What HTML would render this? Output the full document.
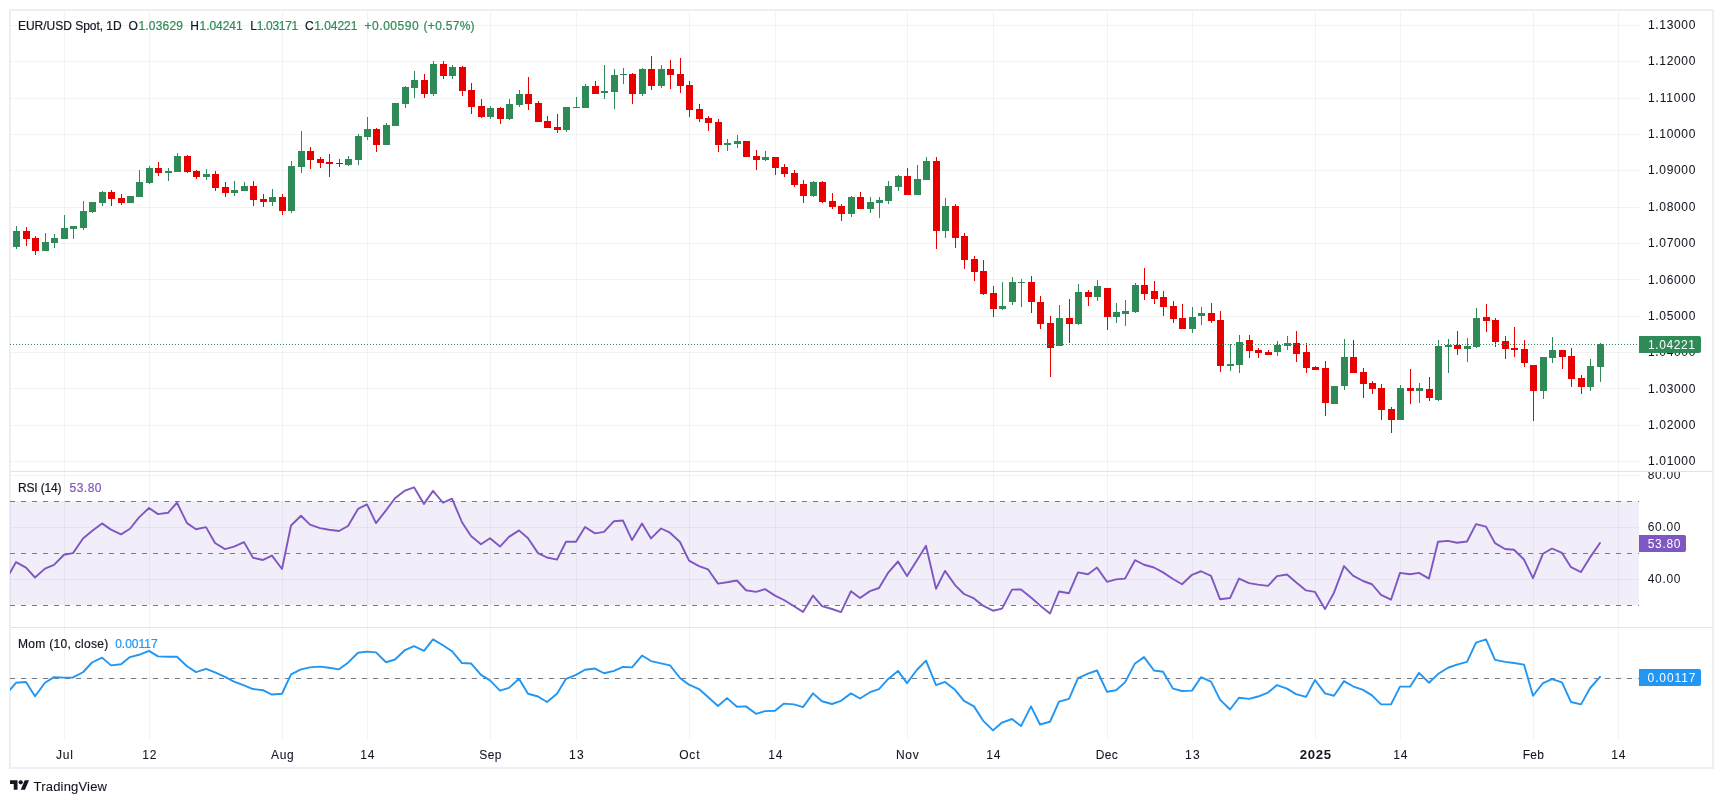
<!DOCTYPE html>
<html><head><meta charset="utf-8"><title>EUR/USD Spot</title>
<style>html,body{margin:0;padding:0;background:#fff;overflow:hidden}svg text{white-space:pre}</style>
</head><body>
<svg width="1723" height="803" viewBox="0 0 1723 803" style="display:block;will-change:transform">
<defs>
<clipPath id="cm"><rect x="10" y="11" width="1629" height="460"/></clipPath>
<clipPath id="cr"><rect x="10" y="472" width="1629" height="155"/></clipPath>
<clipPath id="co"><rect x="10" y="628" width="1629" height="112"/></clipPath>
<clipPath id="cra"><rect x="1639" y="472" width="80" height="155"/></clipPath>
</defs>
<rect x="0" y="0" width="1723" height="803" fill="#ffffff"/>
<rect x="10" y="10" width="1703" height="758" fill="none" stroke="#eeeff3" stroke-width="2" shape-rendering="crispEdges"/>
<rect x="10" y="501" width="1629" height="104" fill="rgba(126,87,194,0.1)" shape-rendering="crispEdges"/>
<g fill="rgba(42,46,57,0.06)" shape-rendering="crispEdges">
<rect x="64" y="11" width="1" height="729"/>
<rect x="149" y="11" width="1" height="729"/>
<rect x="282" y="11" width="1" height="729"/>
<rect x="367" y="11" width="1" height="729"/>
<rect x="490" y="11" width="1" height="729"/>
<rect x="576" y="11" width="1" height="729"/>
<rect x="689" y="11" width="1" height="729"/>
<rect x="775" y="11" width="1" height="729"/>
<rect x="907" y="11" width="1" height="729"/>
<rect x="993" y="11" width="1" height="729"/>
<rect x="1107" y="11" width="1" height="729"/>
<rect x="1192" y="11" width="1" height="729"/>
<rect x="1315" y="11" width="1" height="729"/>
<rect x="1400" y="11" width="1" height="729"/>
<rect x="1533" y="11" width="1" height="729"/>
<rect x="1618" y="11" width="1" height="729"/>
<rect x="10" y="25" width="1629" height="1"/>
<rect x="10" y="61" width="1629" height="1"/>
<rect x="10" y="98" width="1629" height="1"/>
<rect x="10" y="134" width="1629" height="1"/>
<rect x="10" y="170" width="1629" height="1"/>
<rect x="10" y="207" width="1629" height="1"/>
<rect x="10" y="243" width="1629" height="1"/>
<rect x="10" y="279" width="1629" height="1"/>
<rect x="10" y="316" width="1629" height="1"/>
<rect x="10" y="352" width="1629" height="1"/>
<rect x="10" y="388" width="1629" height="1"/>
<rect x="10" y="425" width="1629" height="1"/>
<rect x="10" y="461" width="1629" height="1"/>
<rect x="10" y="475" width="1629" height="1"/>
<rect x="10" y="527" width="1629" height="1"/>
<rect x="10" y="579" width="1629" height="1"/>
<rect x="10" y="678" width="1629" height="1"/>
</g>
<g stroke="#787b86" stroke-width="1" stroke-dasharray="5 6" shape-rendering="crispEdges">
<line x1="10" y1="501.5" x2="1639" y2="501.5"/>
<line x1="10" y1="553.5" x2="1639" y2="553.5"/>
<line x1="10" y1="605.5" x2="1639" y2="605.5"/>
<line x1="10" y1="678.5" x2="1639" y2="678.5"/>
</g>
<path fill="#2e8b57" shape-rendering="crispEdges" d="M13 231h7v16h-7zM16 226h1v5h-1zM16 247h1v2h-1zM42 242h7v9h-7zM45 233h1v9h-1zM51 238h7v5h-7zM54 234h1v4h-1zM54 243h1v5h-1zM61 228h7v11h-7zM64 215h1v13h-1zM70 226h7v3h-7zM73 229h1v10h-1zM80 211h7v17h-7zM83 201h1v10h-1zM83 228h1v2h-1zM89 202h7v10h-7zM92 212h1v1h-1zM99 192h7v11h-7zM102 191h1v1h-1zM102 203h1v3h-1zM127 196h7v7h-7zM136 182h7v15h-7zM139 170h1v12h-1zM146 168h7v15h-7zM149 166h1v2h-1zM149 183h1v1h-1zM165 171h7v2h-7zM168 168h1v3h-1zM168 173h1v8h-1zM174 156h7v16h-7zM177 153h1v3h-1zM203 174h7v3h-7zM206 169h1v5h-1zM206 177h1v3h-1zM231 190h7v3h-7zM234 181h1v9h-1zM234 193h1v3h-1zM241 186h7v5h-7zM244 182h1v4h-1zM269 197h7v5h-7zM272 189h1v8h-1zM272 202h1v4h-1zM288 166h7v45h-7zM291 161h1v5h-1zM291 211h1v2h-1zM298 151h7v16h-7zM301 131h1v20h-1zM301 167h1v6h-1zM345 159h7v6h-7zM348 156h1v3h-1zM348 165h1v1h-1zM355 136h7v24h-7zM358 134h1v2h-1zM358 160h1v5h-1zM364 129h7v8h-7zM367 117h1v12h-1zM367 137h1v3h-1zM383 125h7v20h-7zM386 123h1v2h-1zM392 103h7v23h-7zM402 87h7v17h-7zM405 86h1v1h-1zM405 104h1v4h-1zM411 80h7v8h-7zM414 71h1v9h-1zM414 88h1v10h-1zM430 64h7v30h-7zM433 61h1v3h-1zM433 94h1v2h-1zM449 67h7v9h-7zM452 65h1v2h-1zM452 76h1v3h-1zM487 108h7v9h-7zM490 106h1v2h-1zM490 117h1v2h-1zM506 104h7v15h-7zM509 99h1v5h-1zM509 119h1v1h-1zM516 94h7v11h-7zM519 90h1v4h-1zM519 105h1v2h-1zM563 107h7v23h-7zM566 130h1v2h-1zM573 107h7v1h-7zM576 97h1v10h-1zM582 86h7v22h-7zM585 84h1v2h-1zM601 91h7v2h-7zM604 65h1v26h-1zM604 93h1v6h-1zM611 75h7v17h-7zM614 69h1v6h-1zM614 92h1v17h-1zM620 74h7v1h-7zM623 68h1v6h-1zM623 75h1v9h-1zM639 69h7v25h-7zM642 68h1v1h-1zM642 94h1v2h-1zM658 69h7v17h-7zM661 65h1v4h-1zM661 86h1v2h-1zM724 143h7v2h-7zM727 139h1v4h-1zM727 145h1v6h-1zM734 141h7v3h-7zM737 135h1v6h-1zM737 144h1v4h-1zM762 157h7v3h-7zM765 151h1v6h-1zM765 160h1v1h-1zM810 182h7v14h-7zM813 181h1v1h-1zM813 196h1v1h-1zM848 197h7v17h-7zM851 196h1v1h-1zM851 214h1v3h-1zM867 202h7v7h-7zM870 197h1v5h-1zM870 209h1v4h-1zM876 200h7v3h-7zM879 197h1v3h-1zM879 203h1v15h-1zM885 186h7v15h-7zM888 181h1v5h-1zM888 201h1v3h-1zM895 176h7v11h-7zM898 175h1v1h-1zM898 187h1v4h-1zM914 179h7v16h-7zM917 165h1v14h-1zM923 161h7v19h-7zM926 157h1v4h-1zM942 206h7v25h-7zM945 198h1v8h-1zM945 231h1v7h-1zM999 306h7v3h-7zM1002 282h1v24h-1zM1002 309h1v1h-1zM1009 282h7v20h-7zM1012 277h1v5h-1zM1012 302h1v3h-1zM1018 282h7v1h-7zM1021 279h1v3h-1zM1021 283h1v24h-1zM1056 318h7v28h-7zM1059 305h1v13h-1zM1075 292h7v32h-7zM1078 284h1v8h-1zM1078 324h1v1h-1zM1094 286h7v11h-7zM1097 280h1v6h-1zM1097 297h1v4h-1zM1113 312h7v5h-7zM1116 303h1v9h-1zM1116 317h1v6h-1zM1122 311h7v3h-7zM1125 300h1v11h-1zM1125 314h1v12h-1zM1132 285h7v27h-7zM1135 283h1v2h-1zM1135 312h1v1h-1zM1189 317h7v12h-7zM1192 307h1v10h-1zM1192 329h1v4h-1zM1198 313h7v3h-7zM1201 307h1v6h-1zM1201 316h1v9h-1zM1227 364h7v2h-7zM1230 344h1v20h-1zM1230 366h1v5h-1zM1236 342h7v23h-7zM1239 335h1v7h-1zM1239 365h1v8h-1zM1274 345h7v7h-7zM1277 341h1v4h-1zM1277 352h1v4h-1zM1284 343h7v3h-7zM1287 336h1v7h-1zM1287 346h1v4h-1zM1331 386h7v18h-7zM1341 357h7v29h-7zM1344 339h1v18h-1zM1344 386h1v4h-1zM1397 388h7v32h-7zM1400 385h1v3h-1zM1416 388h7v3h-7zM1419 383h1v5h-1zM1419 391h1v12h-1zM1435 346h7v54h-7zM1438 340h1v6h-1zM1438 400h1v1h-1zM1445 345h7v2h-7zM1448 339h1v6h-1zM1448 347h1v26h-1zM1464 346h7v3h-7zM1467 338h1v8h-1zM1467 349h1v13h-1zM1473 318h7v29h-7zM1476 308h1v10h-1zM1476 347h1v1h-1zM1540 357h7v34h-7zM1543 391h1v8h-1zM1549 350h7v8h-7zM1552 337h1v13h-1zM1552 358h1v5h-1zM1587 366h7v21h-7zM1590 359h1v7h-1zM1590 387h1v4h-1zM1597 344h7v23h-7zM1600 343h1v1h-1zM1600 367h1v15h-1z"/>
<path fill="#e60000" shape-rendering="crispEdges" d="M23 231h7v8h-7zM26 227h1v4h-1zM26 239h1v7h-1zM32 238h7v13h-7zM35 236h1v2h-1zM35 251h1v4h-1zM108 192h7v7h-7zM111 190h1v2h-1zM111 199h1v7h-1zM118 198h7v5h-7zM121 194h1v4h-1zM121 203h1v2h-1zM155 168h7v5h-7zM158 162h1v6h-1zM158 173h1v3h-1zM184 156h7v16h-7zM187 155h1v1h-1zM187 172h1v1h-1zM193 171h7v6h-7zM196 170h1v1h-1zM196 177h1v2h-1zM212 174h7v14h-7zM215 171h1v3h-1zM215 188h1v3h-1zM222 187h7v6h-7zM225 182h1v5h-1zM225 193h1v4h-1zM250 186h7v14h-7zM253 181h1v5h-1zM253 200h1v6h-1zM260 199h7v3h-7zM263 194h1v5h-1zM263 202h1v5h-1zM279 197h7v14h-7zM282 194h1v3h-1zM282 211h1v4h-1zM307 151h7v9h-7zM310 147h1v4h-1zM310 160h1v9h-1zM317 159h7v4h-7zM320 157h1v2h-1zM320 163h1v5h-1zM326 162h7v2h-7zM329 154h1v8h-1zM329 164h1v13h-1zM336 163h7v1h-7zM339 159h1v4h-1zM339 164h1v3h-1zM373 129h7v16h-7zM376 128h1v1h-1zM376 145h1v7h-1zM421 80h7v14h-7zM424 74h1v6h-1zM424 94h1v4h-1zM440 64h7v12h-7zM443 61h1v3h-1zM443 76h1v3h-1zM459 67h7v24h-7zM462 66h1v1h-1zM462 91h1v5h-1zM468 90h7v17h-7zM471 83h1v7h-1zM471 107h1v7h-1zM478 106h7v11h-7zM481 99h1v7h-1zM481 117h1v1h-1zM497 108h7v11h-7zM500 107h1v1h-1zM500 119h1v5h-1zM525 94h7v10h-7zM528 77h1v17h-1zM528 104h1v6h-1zM535 103h7v19h-7zM538 101h1v2h-1zM544 121h7v7h-7zM547 116h1v5h-1zM554 127h7v3h-7zM557 114h1v13h-1zM557 130h1v3h-1zM592 86h7v8h-7zM595 81h1v5h-1zM629 74h7v20h-7zM632 73h1v1h-1zM632 94h1v10h-1zM648 69h7v17h-7zM651 56h1v13h-1zM651 86h1v4h-1zM667 69h7v6h-7zM670 60h1v9h-1zM670 75h1v14h-1zM677 74h7v12h-7zM680 58h1v16h-1zM680 86h1v7h-1zM686 85h7v25h-7zM689 81h1v4h-1zM689 110h1v7h-1zM696 109h7v10h-7zM699 104h1v5h-1zM699 119h1v3h-1zM705 118h7v5h-7zM708 116h1v2h-1zM708 123h1v8h-1zM715 122h7v23h-7zM718 119h1v3h-1zM718 145h1v7h-1zM743 141h7v16h-7zM753 156h7v4h-7zM756 150h1v6h-1zM756 160h1v10h-1zM772 157h7v11h-7zM775 168h1v7h-1zM781 167h7v7h-7zM784 164h1v3h-1zM784 174h1v3h-1zM791 173h7v12h-7zM794 170h1v3h-1zM794 185h1v2h-1zM800 184h7v12h-7zM803 180h1v4h-1zM803 196h1v7h-1zM819 182h7v20h-7zM822 181h1v1h-1zM822 202h1v1h-1zM829 201h7v6h-7zM832 193h1v8h-1zM832 207h1v2h-1zM838 206h7v8h-7zM841 204h1v2h-1zM841 214h1v7h-1zM857 197h7v12h-7zM860 192h1v5h-1zM904 176h7v19h-7zM907 168h1v8h-1zM933 161h7v70h-7zM936 157h1v4h-1zM936 231h1v18h-1zM952 206h7v32h-7zM955 204h1v2h-1zM955 238h1v10h-1zM961 236h7v24h-7zM964 233h1v3h-1zM964 260h1v9h-1zM971 259h7v13h-7zM974 256h1v3h-1zM974 272h1v9h-1zM980 271h7v23h-7zM983 260h1v11h-1zM983 294h1v1h-1zM990 293h7v16h-7zM993 286h1v7h-1zM993 309h1v8h-1zM1028 282h7v20h-7zM1031 276h1v6h-1zM1031 302h1v11h-1zM1037 302h7v22h-7zM1040 296h1v6h-1zM1040 324h1v5h-1zM1047 323h7v25h-7zM1050 316h1v7h-1zM1050 348h1v29h-1zM1066 318h7v6h-7zM1069 299h1v19h-1zM1069 324h1v19h-1zM1085 292h7v5h-7zM1088 290h1v2h-1zM1088 297h1v9h-1zM1104 288h7v29h-7zM1107 317h1v13h-1zM1141 285h7v9h-7zM1144 268h1v17h-1zM1144 294h1v6h-1zM1151 291h7v8h-7zM1154 281h1v10h-1zM1154 299h1v5h-1zM1160 297h7v10h-7zM1163 291h1v6h-1zM1163 307h1v9h-1zM1170 306h7v13h-7zM1173 301h1v5h-1zM1173 319h1v4h-1zM1179 318h7v11h-7zM1182 304h1v14h-1zM1208 313h7v8h-7zM1211 303h1v10h-1zM1211 321h1v2h-1zM1217 320h7v46h-7zM1220 311h1v9h-1zM1220 366h1v6h-1zM1246 340h7v11h-7zM1249 335h1v5h-1zM1249 351h1v7h-1zM1255 350h7v3h-7zM1258 348h1v2h-1zM1258 353h1v5h-1zM1265 352h7v3h-7zM1268 350h1v2h-1zM1293 343h7v11h-7zM1296 331h1v12h-1zM1296 354h1v8h-1zM1303 352h7v16h-7zM1306 343h1v9h-1zM1306 368h1v5h-1zM1312 367h7v3h-7zM1315 366h1v1h-1zM1322 368h7v35h-7zM1325 361h1v7h-1zM1325 403h1v13h-1zM1350 357h7v16h-7zM1353 340h1v17h-1zM1360 372h7v12h-7zM1363 368h1v4h-1zM1363 384h1v14h-1zM1369 383h7v6h-7zM1372 381h1v2h-1zM1372 389h1v5h-1zM1378 388h7v22h-7zM1381 384h1v4h-1zM1381 410h1v10h-1zM1388 409h7v11h-7zM1391 407h1v2h-1zM1391 420h1v13h-1zM1407 388h7v3h-7zM1410 369h1v19h-1zM1410 391h1v13h-1zM1426 389h7v9h-7zM1429 377h1v12h-1zM1429 398h1v3h-1zM1454 345h7v4h-7zM1457 331h1v14h-1zM1457 349h1v6h-1zM1483 317h7v4h-7zM1486 304h1v13h-1zM1486 321h1v11h-1zM1492 320h7v22h-7zM1495 318h1v2h-1zM1495 342h1v5h-1zM1502 341h7v8h-7zM1505 336h1v5h-1zM1505 349h1v10h-1zM1511 348h7v2h-7zM1514 327h1v21h-1zM1514 350h1v7h-1zM1521 349h7v14h-7zM1524 340h1v9h-1zM1524 363h1v4h-1zM1530 365h7v26h-7zM1533 391h1v30h-1zM1559 350h7v7h-7zM1562 357h1v12h-1zM1568 356h7v23h-7zM1571 348h1v8h-1zM1571 379h1v8h-1zM1578 378h7v9h-7zM1581 375h1v3h-1zM1581 387h1v7h-1z"/>
<line x1="10" y1="344.5" x2="1639" y2="344.5" stroke="#2e8b57" stroke-width="1" stroke-dasharray="1 2" shape-rendering="crispEdges"/>
<polyline clip-path="url(#cr)" fill="none" stroke="#7e57c2" stroke-width="1.9" stroke-linejoin="round" stroke-linecap="round" points="7,578.00 16,562.10 26,567.70 35,577.50 45,568.60 54,564.80 64,554.75 73,553.10 83,538.50 92,531.00 102,523.40 111,529.60 121,534.40 130,528.75 139,517.40 149,507.95 158,514.10 168,512.80 177,502.75 187,523.10 196,529.20 206,527.10 215,543.05 225,549.10 234,546.60 244,542.10 253,557.70 263,559.95 272,555.60 282,569.05 291,525.50 301,515.75 310,524.70 320,528.10 329,529.70 339,531.00 348,526.00 358,508.90 367,504.40 376,523.05 386,510.40 395,498.20 405,490.55 414,487.30 424,503.90 433,490.90 443,502.75 452,498.70 462,522.25 471,536.05 481,544.20 490,538.20 500,546.60 509,536.90 519,530.40 528,538.20 538,553.10 547,557.50 557,559.60 566,541.70 576,541.70 585,527.05 595,533.40 604,531.90 614,521.20 623,520.55 632,540.05 642,523.60 651,538.40 661,528.50 670,532.70 680,542.00 689,560.70 699,566.05 708,569.30 718,583.60 727,582.30 737,580.50 746,590.25 756,591.90 765,589.10 775,595.60 784,600.00 794,606.20 803,611.90 813,595.60 822,606.20 832,609.00 841,612.20 851,591.20 860,598.05 870,591.10 879,588.00 888,572.90 898,561.50 907,576.10 917,560.20 926,545.70 936,588.80 945,570.90 955,585.05 964,594.00 974,598.40 983,605.70 993,610.70 1002,608.60 1012,589.60 1021,589.45 1031,597.50 1040,605.40 1050,613.50 1059,591.55 1069,593.20 1078,572.40 1088,574.20 1097,567.60 1107,581.80 1116,579.40 1125,578.60 1135,560.20 1144,564.75 1154,567.50 1163,572.40 1173,579.05 1182,584.25 1192,574.80 1201,571.25 1211,575.80 1220,599.20 1230,598.05 1239,578.60 1249,583.10 1258,584.60 1268,585.90 1277,576.10 1287,574.50 1296,582.30 1306,590.40 1315,591.90 1325,609.10 1334,592.70 1344,566.05 1353,575.60 1363,581.00 1372,584.25 1381,594.80 1391,599.70 1400,572.90 1410,574.20 1419,572.90 1429,578.60 1438,541.70 1448,540.90 1457,542.80 1467,541.50 1476,524.10 1486,526.60 1495,543.10 1505,549.00 1514,549.80 1524,559.55 1533,578.20 1543,553.70 1552,548.50 1562,552.90 1571,567.20 1581,572.10 1590,557.40 1600,543.00"/>
<polyline clip-path="url(#co)" fill="none" stroke="#2196f3" stroke-width="1.9" stroke-linejoin="round" stroke-linecap="round" points="7,693.20 16,682.80 26,682.00 35,696.30 45,682.80 54,677.10 64,677.60 73,677.45 83,672.25 92,662.50 102,657.60 111,665.40 121,664.22 130,657.12 139,654.76 149,650.82 158,656.34 168,656.73 177,656.73 187,666.19 196,672.10 206,668.94 215,672.49 225,676.82 234,681.55 244,685.49 253,689.04 263,690.22 272,694.55 282,693.77 291,674.46 301,669.34 310,667.37 320,666.58 329,667.76 339,669.34 348,662.64 358,652.79 367,651.61 376,652.40 386,662.25 395,659.49 405,650.03 414,646.09 424,650.82 433,639.39 443,645.30 452,651.21 462,663.03 471,663.43 481,674.85 490,680.37 500,690.61 509,687.86 519,678.79 528,693.77 538,696.52 547,702.04 557,693.77 566,678.79 576,674.85 585,669.73 595,668.55 604,673.28 614,670.91 623,666.97 632,667.37 642,655.55 651,661.06 661,663.43 670,665.40 680,678.01 689,684.70 699,689.04 708,696.92 718,705.98 727,698.10 737,706.77 746,706.37 756,713.86 765,711.10 775,710.71 784,703.62 794,704.40 803,707.16 813,693.37 822,701.25 832,704.01 841,700.86 851,693.37 860,698.49 870,692.19 879,689.04 888,679.19 898,670.91 907,683.13 917,669.73 926,660.67 936,685.10 945,681.95 955,689.83 964,700.86 974,706.37 983,720.56 993,730.41 1002,722.53 1012,718.98 1021,726.07 1031,706.37 1040,724.50 1050,721.74 1059,701.65 1069,698.89 1078,678.01 1088,673.67 1097,670.52 1107,691.80 1116,690.22 1125,682.34 1135,663.43 1144,657.12 1154,670.52 1163,671.70 1173,688.64 1182,691.01 1192,690.61 1201,677.22 1211,681.55 1220,699.68 1230,709.53 1239,697.71 1249,698.89 1258,696.52 1268,692.58 1277,685.10 1287,688.64 1296,694.16 1306,696.92 1315,679.98 1325,693.37 1334,695.74 1344,681.16 1353,686.28 1363,689.83 1372,695.34 1381,704.40 1391,704.40 1400,686.67 1410,686.67 1419,672.88 1429,682.73 1438,674.07 1448,667.76 1457,664.61 1467,661.85 1476,642.55 1486,639.39 1495,659.88 1505,661.85 1514,663.03 1524,664.61 1533,695.74 1543,683.13 1552,679.19 1562,682.34 1571,702.04 1581,704.40 1590,688.25 1600,676.82"/>
<g fill="#e0e3eb" shape-rendering="crispEdges">
<rect x="11" y="471" width="1701" height="1"/><rect x="11" y="627" width="1701" height="1"/>
</g>
<g font-family="Liberation Sans, sans-serif" stroke-width="0.3" stroke-linejoin="round">
<text x="1648.0" y="29.05" fill="#131722" font-size="12" stroke="#131722" stroke-width="0.05" textLength="47.4" lengthAdjust="spacing" >1.13000</text>
<text x="1648.0" y="65.38" fill="#131722" font-size="12" stroke="#131722" stroke-width="0.05" textLength="47.4" lengthAdjust="spacing" >1.12000</text>
<text x="1648.0" y="101.72" fill="#131722" font-size="12" stroke="#131722" stroke-width="0.05" textLength="47.4" lengthAdjust="spacing" >1.11000</text>
<text x="1648.0" y="138.05" fill="#131722" font-size="12" stroke="#131722" stroke-width="0.05" textLength="47.4" lengthAdjust="spacing" >1.10000</text>
<text x="1648.0" y="174.38" fill="#131722" font-size="12" stroke="#131722" stroke-width="0.05" textLength="47.4" lengthAdjust="spacing" >1.09000</text>
<text x="1648.0" y="210.72" fill="#131722" font-size="12" stroke="#131722" stroke-width="0.05" textLength="47.4" lengthAdjust="spacing" >1.08000</text>
<text x="1648.0" y="247.05" fill="#131722" font-size="12" stroke="#131722" stroke-width="0.05" textLength="47.4" lengthAdjust="spacing" >1.07000</text>
<text x="1648.0" y="284.28" fill="#131722" font-size="12" stroke="#131722" stroke-width="0.05" textLength="47.4" lengthAdjust="spacing" >1.06000</text>
<text x="1648.0" y="319.72" fill="#131722" font-size="12" stroke="#131722" stroke-width="0.05" textLength="47.4" lengthAdjust="spacing" >1.05000</text>
<text x="1648.0" y="356.05" fill="#131722" font-size="12" stroke="#131722" stroke-width="0.05" textLength="47.4" lengthAdjust="spacing" >1.04000</text>
<text x="1648.0" y="393.28" fill="#131722" font-size="12" stroke="#131722" stroke-width="0.05" textLength="47.4" lengthAdjust="spacing" >1.03000</text>
<text x="1648.0" y="428.72" fill="#131722" font-size="12" stroke="#131722" stroke-width="0.05" textLength="47.4" lengthAdjust="spacing" >1.02000</text>
<text x="1648.0" y="465.05" fill="#131722" font-size="12" stroke="#131722" stroke-width="0.05" textLength="47.4" lengthAdjust="spacing" >1.01000</text>
<g clip-path="url(#cra)">
<text x="1647.8" y="478.95" fill="#131722" font-size="12" textLength="32.6" lengthAdjust="spacing" >80.00</text>
<text x="1647.8" y="530.95" fill="#131722" font-size="12" textLength="32.6" lengthAdjust="spacing" >60.00</text>
<text x="1647.8" y="582.95" fill="#131722" font-size="12" textLength="32.6" lengthAdjust="spacing" >40.00</text>
</g>
<path fill="#2e8b57" d="M1639 336h60a2 2 0 0 1 2 2v13a2 2 0 0 1 -2 2h-60z"/>
<text x="1648.0" y="349.0" fill="#ffffff" font-size="12" textLength="47.0" lengthAdjust="spacing" >1.04221</text>
<path fill="#7e57c2" d="M1639 535h45a2 2 0 0 1 2 2v13a2 2 0 0 1 -2 2h-45z"/>
<text x="1647.8" y="548.0" fill="#ffffff" font-size="12" textLength="32.6" lengthAdjust="spacing" >53.80</text>
<path fill="#2196f3" d="M1639 669h60a2 2 0 0 1 2 2v13a2 2 0 0 1 -2 2h-60z"/>
<text x="1647.6" y="682.0" fill="#ffffff" font-size="12" textLength="47.8" lengthAdjust="spacing" >0.00117</text>
<text x="18.0" y="30.0" fill="#131722" font-size="12" stroke="#131722" stroke-width="0.2" textLength="103.7" lengthAdjust="spacing" >EUR/USD Spot, 1D</text>
<text x="128.6" y="30.0" fill="#131722" font-size="12" stroke="#131722" stroke-width="0.2" >O</text>
<text x="138.4" y="30.0" fill="#2e8b57" font-size="12" stroke="#2e8b57" stroke-width="0.2" textLength="44.6" lengthAdjust="spacing" >1.03629</text>
<text x="190.3" y="30.0" fill="#131722" font-size="12" stroke="#131722" stroke-width="0.2" >H</text>
<text x="199.6" y="30.0" fill="#2e8b57" font-size="12" stroke="#2e8b57" stroke-width="0.2" textLength="43.0" lengthAdjust="spacing" >1.04241</text>
<text x="250.2" y="30.0" fill="#131722" font-size="12" stroke="#131722" stroke-width="0.2" >L</text>
<text x="256.7" y="30.0" fill="#2e8b57" font-size="12" stroke="#2e8b57" stroke-width="0.2" textLength="41.5" lengthAdjust="spacing" >1.03171</text>
<text x="305.0" y="30.0" fill="#131722" font-size="12" stroke="#131722" stroke-width="0.2" >C</text>
<text x="314.2" y="30.0" fill="#2e8b57" font-size="12" stroke="#2e8b57" stroke-width="0.2" textLength="43.2" lengthAdjust="spacing" >1.04221</text>
<text x="364.4" y="30.0" fill="#2e8b57" font-size="12" stroke="#2e8b57" stroke-width="0.2" textLength="54.4" lengthAdjust="spacing" >+0.00590</text>
<text x="423.6" y="30.0" fill="#2e8b57" font-size="12" stroke="#2e8b57" stroke-width="0.2" textLength="51.0" lengthAdjust="spacing" >(+0.57%)</text>
<text x="18.0" y="491.8" fill="#131722" font-size="12" stroke="#131722" stroke-width="0.2" textLength="43.6" lengthAdjust="spacing" >RSI (14)</text>
<text x="69.5" y="491.8" fill="#7e57c2" font-size="12" stroke="#7e57c2" stroke-width="0.2" textLength="32.0" lengthAdjust="spacing" >53.80</text>
<text x="18.0" y="647.8" fill="#131722" font-size="12" stroke="#131722" stroke-width="0.2" textLength="90.2" lengthAdjust="spacing" >Mom (10, close)</text>
<text x="115.2" y="647.8" fill="#2196f3" font-size="12" stroke="#2196f3" stroke-width="0.2" textLength="42.4" lengthAdjust="spacing" >0.00117</text>
<text x="55.90" y="759.2" fill="#131722" font-size="12" stroke="#131722" stroke-width="0.08" textLength="16.9" lengthAdjust="spacing" >Jul</text>
<text x="142.30" y="759.2" fill="#131722" font-size="12" stroke="#131722" stroke-width="0.08" textLength="14.1" lengthAdjust="spacing" >12</text>
<text x="271.00" y="759.2" fill="#131722" font-size="12" stroke="#131722" stroke-width="0.08" textLength="22.7" lengthAdjust="spacing" >Aug</text>
<text x="360.30" y="759.2" fill="#131722" font-size="12" stroke="#131722" stroke-width="0.08" textLength="14.1" lengthAdjust="spacing" >14</text>
<text x="479.30" y="759.2" fill="#131722" font-size="12" stroke="#131722" stroke-width="0.08" textLength="22.099999999999998" lengthAdjust="spacing" >Sep</text>
<text x="569.10" y="759.2" fill="#131722" font-size="12" stroke="#131722" stroke-width="0.08" textLength="14.5" lengthAdjust="spacing" >13</text>
<text x="679.15" y="759.2" fill="#131722" font-size="12" stroke="#131722" stroke-width="0.08" textLength="20.4" lengthAdjust="spacing" >Oct</text>
<text x="768.30" y="759.2" fill="#131722" font-size="12" stroke="#131722" stroke-width="0.08" textLength="14.1" lengthAdjust="spacing" >14</text>
<text x="896.05" y="759.2" fill="#131722" font-size="12" stroke="#131722" stroke-width="0.08" textLength="22.599999999999998" lengthAdjust="spacing" >Nov</text>
<text x="986.30" y="759.2" fill="#131722" font-size="12" stroke="#131722" stroke-width="0.08" textLength="14.1" lengthAdjust="spacing" >14</text>
<text x="1095.70" y="759.2" fill="#131722" font-size="12" stroke="#131722" stroke-width="0.08" textLength="22.099999999999998" lengthAdjust="spacing" >Dec</text>
<text x="1185.10" y="759.2" fill="#131722" font-size="12" stroke="#131722" stroke-width="0.08" textLength="14.5" lengthAdjust="spacing" >13</text>
<g transform="translate(1299.85 759.2) scale(1.1 1)"><text x="0" y="0" fill="#131722" font-size="12" textLength="28.45" lengthAdjust="spacing" font-weight="bold" >2025</text></g>
<text x="1393.30" y="759.2" fill="#131722" font-size="12" stroke="#131722" stroke-width="0.08" textLength="14.1" lengthAdjust="spacing" >14</text>
<text x="1522.65" y="759.2" fill="#131722" font-size="12" stroke="#131722" stroke-width="0.08" textLength="21.4" lengthAdjust="spacing" >Feb</text>
<text x="1611.30" y="759.2" fill="#131722" font-size="12" stroke="#131722" stroke-width="0.08" textLength="14.1" lengthAdjust="spacing" >14</text>
<text x="33.6" y="790.8" fill="#131722" font-size="13" stroke="#131722" stroke-width="0.1" textLength="73.4" lengthAdjust="spacing" >TradingView</text>
</g>
<g transform="translate(10 778.06) scale(0.536)" fill="#131722"><path d="M14 22H7V11H0V4h14v18zM28 22h-8l7.5-18h8L28 22z"/><circle cx="20" cy="8" r="4"/></g>
</svg>
</body></html>
